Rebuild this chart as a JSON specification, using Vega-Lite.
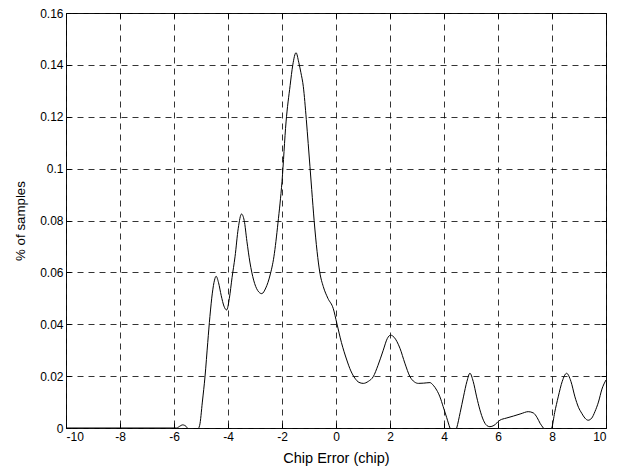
{
  "$schema": "https://vega.github.io/schema/vega-lite/v6.json",
  "width": 540,
  "height": 415,
  "autosize": {"type": "none"},
  "padding": {"left": 66, "top": 13, "right": 12, "bottom": 41},
  "background": "white",
  "config": {
    "view": {"stroke": "black", "strokeWidth": 1},
    "font": "Liberation Sans",
    "axis": {
      "labelFont": "Liberation Sans",
      "titleFont": "Liberation Sans",
      "labelFontSize": 12,
      "titleFontSize": 14,
      "labelColor": "black",
      "titleColor": "black",
      "titleFontWeight": "normal",
      "domain": false,
      "tickColor": "black",
      "tickSize": -5,
      "gridColor": "#111",
      "gridDash": [6, 5],
      "gridOpacity": 0.85,
      "gridWidth": 1
    }
  },
  "data": {"values": [
    {"x": -10, "y": 0}, {"x": -6, "y": 0}, {"x": -5.9, "y": 0}, {"x": -5.8, "y": 0.0006}, {"x": -5.68, "y": 0.0012},
    {"x": -5.55, "y": 0.0006}, {"x": -5.45, "y": -0.001}, {"x": -5.3, "y": -0.002}, {"x": -5.15, "y": -0.001},
    {"x": -5.05, "y": 0.001}, {"x": -4.95, "y": 0.01}, {"x": -4.85, "y": 0.02}, {"x": -4.75, "y": 0.033},
    {"x": -4.67, "y": 0.043}, {"x": -4.58, "y": 0.052}, {"x": -4.5, "y": 0.057}, {"x": -4.44, "y": 0.0585},
    {"x": -4.35, "y": 0.056}, {"x": -4.25, "y": 0.051}, {"x": -4.15, "y": 0.047}, {"x": -4.05, "y": 0.0455},
    {"x": -3.95, "y": 0.05}, {"x": -3.85, "y": 0.058}, {"x": -3.74, "y": 0.066}, {"x": -3.62, "y": 0.077},
    {"x": -3.5, "y": 0.0825}, {"x": -3.4, "y": 0.08}, {"x": -3.3, "y": 0.072}, {"x": -3.19, "y": 0.064},
    {"x": -3.05, "y": 0.057}, {"x": -2.9, "y": 0.053}, {"x": -2.75, "y": 0.0518}, {"x": -2.6, "y": 0.054},
    {"x": -2.44, "y": 0.059}, {"x": -2.3, "y": 0.066}, {"x": -2.15, "y": 0.079}, {"x": -2.0, "y": 0.095},
    {"x": -1.85, "y": 0.118}, {"x": -1.7, "y": 0.132}, {"x": -1.6, "y": 0.14}, {"x": -1.48, "y": 0.1447},
    {"x": -1.38, "y": 0.141}, {"x": -1.3, "y": 0.137}, {"x": -1.21, "y": 0.1316}, {"x": -1.1, "y": 0.119},
    {"x": -1.03, "y": 0.1097}, {"x": -0.9, "y": 0.092}, {"x": -0.81, "y": 0.08}, {"x": -0.7, "y": 0.068},
    {"x": -0.6, "y": 0.06}, {"x": -0.47, "y": 0.0545}, {"x": -0.3, "y": 0.05}, {"x": -0.1, "y": 0.046},
    {"x": 0.03, "y": 0.0404}, {"x": 0.2, "y": 0.033}, {"x": 0.4, "y": 0.0262}, {"x": 0.55, "y": 0.022},
    {"x": 0.7, "y": 0.0192}, {"x": 0.85, "y": 0.0176}, {"x": 1.01, "y": 0.0172}, {"x": 1.2, "y": 0.018},
    {"x": 1.38, "y": 0.0198}, {"x": 1.55, "y": 0.024}, {"x": 1.75, "y": 0.03}, {"x": 1.9, "y": 0.0345},
    {"x": 2.02, "y": 0.0358}, {"x": 2.15, "y": 0.035}, {"x": 2.37, "y": 0.0307}, {"x": 2.55, "y": 0.025},
    {"x": 2.74, "y": 0.0198}, {"x": 2.9, "y": 0.0178}, {"x": 3.05, "y": 0.0172}, {"x": 3.25, "y": 0.0173},
    {"x": 3.48, "y": 0.0175}, {"x": 3.6, "y": 0.0165}, {"x": 3.73, "y": 0.0146}, {"x": 3.85, "y": 0.012},
    {"x": 3.97, "y": 0.0082}, {"x": 4.1, "y": 0.004}, {"x": 4.22, "y": 0}, {"x": 4.35, "y": -0.003},
    {"x": 4.47, "y": 0}, {"x": 4.6, "y": 0.006}, {"x": 4.72, "y": 0.012}, {"x": 4.85, "y": 0.018},
    {"x": 4.96, "y": 0.0211}, {"x": 5.08, "y": 0.018}, {"x": 5.21, "y": 0.012}, {"x": 5.33, "y": 0.007},
    {"x": 5.46, "y": 0.003}, {"x": 5.58, "y": 0.001}, {"x": 5.7, "y": 0.0005}, {"x": 5.85, "y": 0.001},
    {"x": 6.07, "y": 0.003}, {"x": 6.3, "y": 0.0038}, {"x": 6.57, "y": 0.0046}, {"x": 6.85, "y": 0.0055},
    {"x": 7.12, "y": 0.0063}, {"x": 7.31, "y": 0.0058}, {"x": 7.45, "y": 0.004}, {"x": 7.56, "y": 0.0018},
    {"x": 7.68, "y": 0}, {"x": 7.83, "y": -0.002}, {"x": 7.99, "y": 0}, {"x": 8.1, "y": 0.006},
    {"x": 8.23, "y": 0.012}, {"x": 8.38, "y": 0.018}, {"x": 8.54, "y": 0.0211}, {"x": 8.7, "y": 0.018},
    {"x": 8.85, "y": 0.012}, {"x": 8.98, "y": 0.008}, {"x": 9.1, "y": 0.0057}, {"x": 9.22, "y": 0.0038},
    {"x": 9.34, "y": 0.003}, {"x": 9.47, "y": 0.0038}, {"x": 9.59, "y": 0.0063}, {"x": 9.72, "y": 0.01},
    {"x": 9.85, "y": 0.015}, {"x": 10, "y": 0.0185}
  ]},
  "layer": [
    {
      "mark": {"type": "line", "color": "black", "strokeWidth": 1, "interpolate": "monotone", "clip": true},
      "encoding": {
        "x": {"field": "x", "type": "quantitative", "scale": {"domain": [-10, 10], "nice": false},
          "axis": {"title": "Chip Error (chip)", "values": [-10, -8, -6, -4, -2, 0, 2, 4, 6, 8, 10], "labelExpr": "'' + datum.value", "grid": true, "labelPadding": 8, "titleFontSize": 14.5, "titleY": 34, "titleBaseline": "alphabetic"}},
        "y": {"field": "y", "type": "quantitative", "scale": {"domain": [0, 0.16], "nice": false, "zero": false},
          "axis": {"title": "% of samples", "values": [0, 0.02, 0.04, 0.06, 0.08, 0.1, 0.12, 0.14, 0.16], "labelExpr": "'' + datum.value", "grid": true, "labelPadding": 8, "titleFontSize": 13.3, "titleX": -46, "titleY": 207.5, "titleBaseline": "middle", "titleAlign": "center", "titleAngle": 270}}
      }
    },
    {
      "mark": {"type": "line", "opacity": 0, "clip": true},
      "encoding": {
        "x": {"field": "x", "type": "quantitative",
          "axis": {"orient": "top", "title": null, "labels": false, "grid": false, "values": [-10, -8, -6, -4, -2, 0, 2, 4, 6, 8, 10]}},
        "y": {"field": "y", "type": "quantitative",
          "axis": {"orient": "right", "title": null, "labels": false, "grid": false, "values": [0, 0.02, 0.04, 0.06, 0.08, 0.1, 0.12, 0.14, 0.16]}}
      }
    }
  ],
  "resolve": {"axis": {"x": "independent", "y": "independent"}}
}
